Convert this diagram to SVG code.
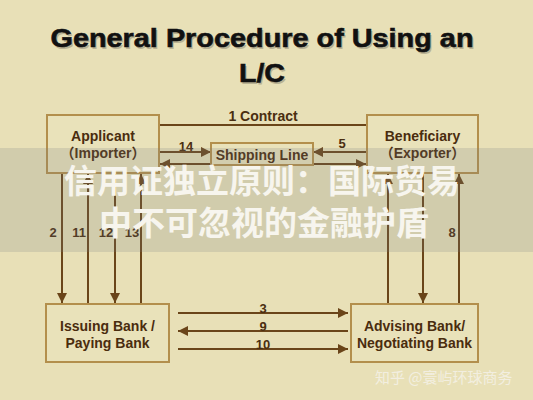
<svg xmlns="http://www.w3.org/2000/svg" width="533" height="400" viewBox="0 0 533 400">
<defs>
<style>
.bg{fill:#e8e0b7}
.box{fill:#e9e2ba;stroke:#b38f4c;stroke-width:2}
.nt{font-family:"Liberation Sans",Arial,"Noto Sans CJK SC",sans-serif;font-weight:bold;font-size:14px;fill:#4a2c0e;text-anchor:middle}
.ln{stroke:#6a4519;stroke-width:2;fill:none}
.lb{font-family:"Liberation Sans",Arial,sans-serif;font-weight:bold;font-size:13px;fill:#4a2e10;text-anchor:middle}
.title{font-family:"Liberation Sans",Arial,sans-serif;font-weight:bold;font-size:26px;text-anchor:middle}
.cn{font-family:"Noto Sans CJK SC","Noto Sans CJK JP",sans-serif;font-weight:bold;font-size:33px;fill:#f7f5ee;text-anchor:middle}
.wm{font-family:"Noto Sans CJK SC",sans-serif;font-size:15px;fill:#f4f1e6;fill-opacity:0.9}
</style>
<marker id="ah" viewBox="0 0 10 10" refX="10" refY="5" markerWidth="5" markerHeight="5" orient="auto" markerUnits="strokeWidth">
<path d="M0,0 L10,5 L0,10 z" fill="#6a4519"/>
</marker>
</defs>
<rect class="bg" x="0" y="0" width="533" height="400"/>

<g id="title">
<text class="title" x="263.5" y="48.5" fill="#b9b293" textLength="423" lengthAdjust="spacingAndGlyphs">General Procedure of Using an</text>
<text class="title" x="263.5" y="83.5" fill="#b9b293" textLength="46" lengthAdjust="spacingAndGlyphs">L/C</text>
<text class="title" x="262" y="47" fill="#111" stroke="#111" stroke-width="0.6" textLength="423" lengthAdjust="spacingAndGlyphs">General Procedure of Using an</text>
<text class="title" x="262" y="82" fill="#111" stroke="#111" stroke-width="0.6" textLength="46" lengthAdjust="spacingAndGlyphs">L/C</text>
</g>

<g id="connectors">
<line class="ln" x1="159" y1="125" x2="367" y2="125"/>
<text class="lb" x="263" y="121" style="font-size:14px">1 Contract</text>
<line class="ln" x1="159" y1="152" x2="211" y2="152" marker-end="url(#ah)"/>
<text class="lb" x="186" y="151">14</text>
<line class="ln" x1="211" y1="164" x2="160" y2="164" marker-end="url(#ah)"/>
<line class="ln" x1="367" y1="152" x2="313" y2="152" marker-end="url(#ah)"/>
<text class="lb" x="342" y="148">5</text>
<line class="ln" x1="313" y1="164" x2="366" y2="164" marker-end="url(#ah)"/>

<line class="ln" x1="62" y1="173" x2="62" y2="303" marker-end="url(#ah)"/>
<line class="ln" x1="88" y1="304" x2="88" y2="174" marker-end="url(#ah)"/>
<line class="ln" x1="115" y1="173" x2="115" y2="303" marker-end="url(#ah)"/>
<line class="ln" x1="141" y1="304" x2="141" y2="174" marker-end="url(#ah)"/>
<text class="lb" x="53" y="237">2</text>
<text class="lb" x="79" y="237">11</text>
<text class="lb" x="106" y="237">12</text>
<text class="lb" x="132" y="237">13</text>

<line class="ln" x1="388" y1="304" x2="388" y2="174" marker-end="url(#ah)"/>
<line class="ln" x1="423" y1="173" x2="423" y2="303" marker-end="url(#ah)"/>
<line class="ln" x1="459" y1="304" x2="459" y2="174" marker-end="url(#ah)"/>
<text class="lb" x="452" y="237">8</text>

<line class="ln" x1="178" y1="313" x2="348" y2="313" marker-end="url(#ah)"/>
<text class="lb" x="263" y="313">3</text>
<line class="ln" x1="348" y1="331" x2="178" y2="331" marker-end="url(#ah)"/>
<text class="lb" x="263" y="331">9</text>
<line class="ln" x1="178" y1="349" x2="348" y2="349" marker-end="url(#ah)"/>
<text class="lb" x="263" y="349">10</text>
</g>

<g id="applicant">
<rect class="box" x="47" y="115" width="112" height="58"/>
<text class="nt" x="103" y="141">Applicant</text>
<text class="nt" x="103" y="158">（Importer）</text>
</g>
<g id="beneficiary">
<rect class="box" x="367" y="115" width="111" height="58"/>
<text class="nt" x="422.5" y="141">Beneficiary</text>
<text class="nt" x="422.5" y="158">（Exporter）</text>
</g>
<g id="shipping-line">
<rect class="box" x="211" y="143" width="102" height="22"/>
<text class="nt" x="262" y="160">Shipping Line</text>
</g>
<g id="issuing-bank">
<rect class="box" x="46" y="304" width="123" height="58"/>
<text class="nt" x="107.5" y="331">Issuing Bank /</text>
<text class="nt" x="107.5" y="348">Paying Bank</text>
</g>
<g id="advising-bank">
<rect class="box" x="351" y="304" width="127" height="58"/>
<text class="nt" x="414.5" y="331">Advising Bank/</text>
<text class="nt" x="414.5" y="348">Negotiating Bank</text>
</g>

<g id="overlay">
<rect x="0" y="148" width="533" height="104" fill="#787d82" fill-opacity="0.2"/>
<text class="cn" x="262" y="193">信用证独立原则：国际贸易</text>
<text class="cn" x="264" y="235">中不可忽视的金融护盾</text>
</g>
<g id="watermark">
<text class="wm" x="375" y="383">知乎 @寰屿环球商务</text>
</g>
</svg>
